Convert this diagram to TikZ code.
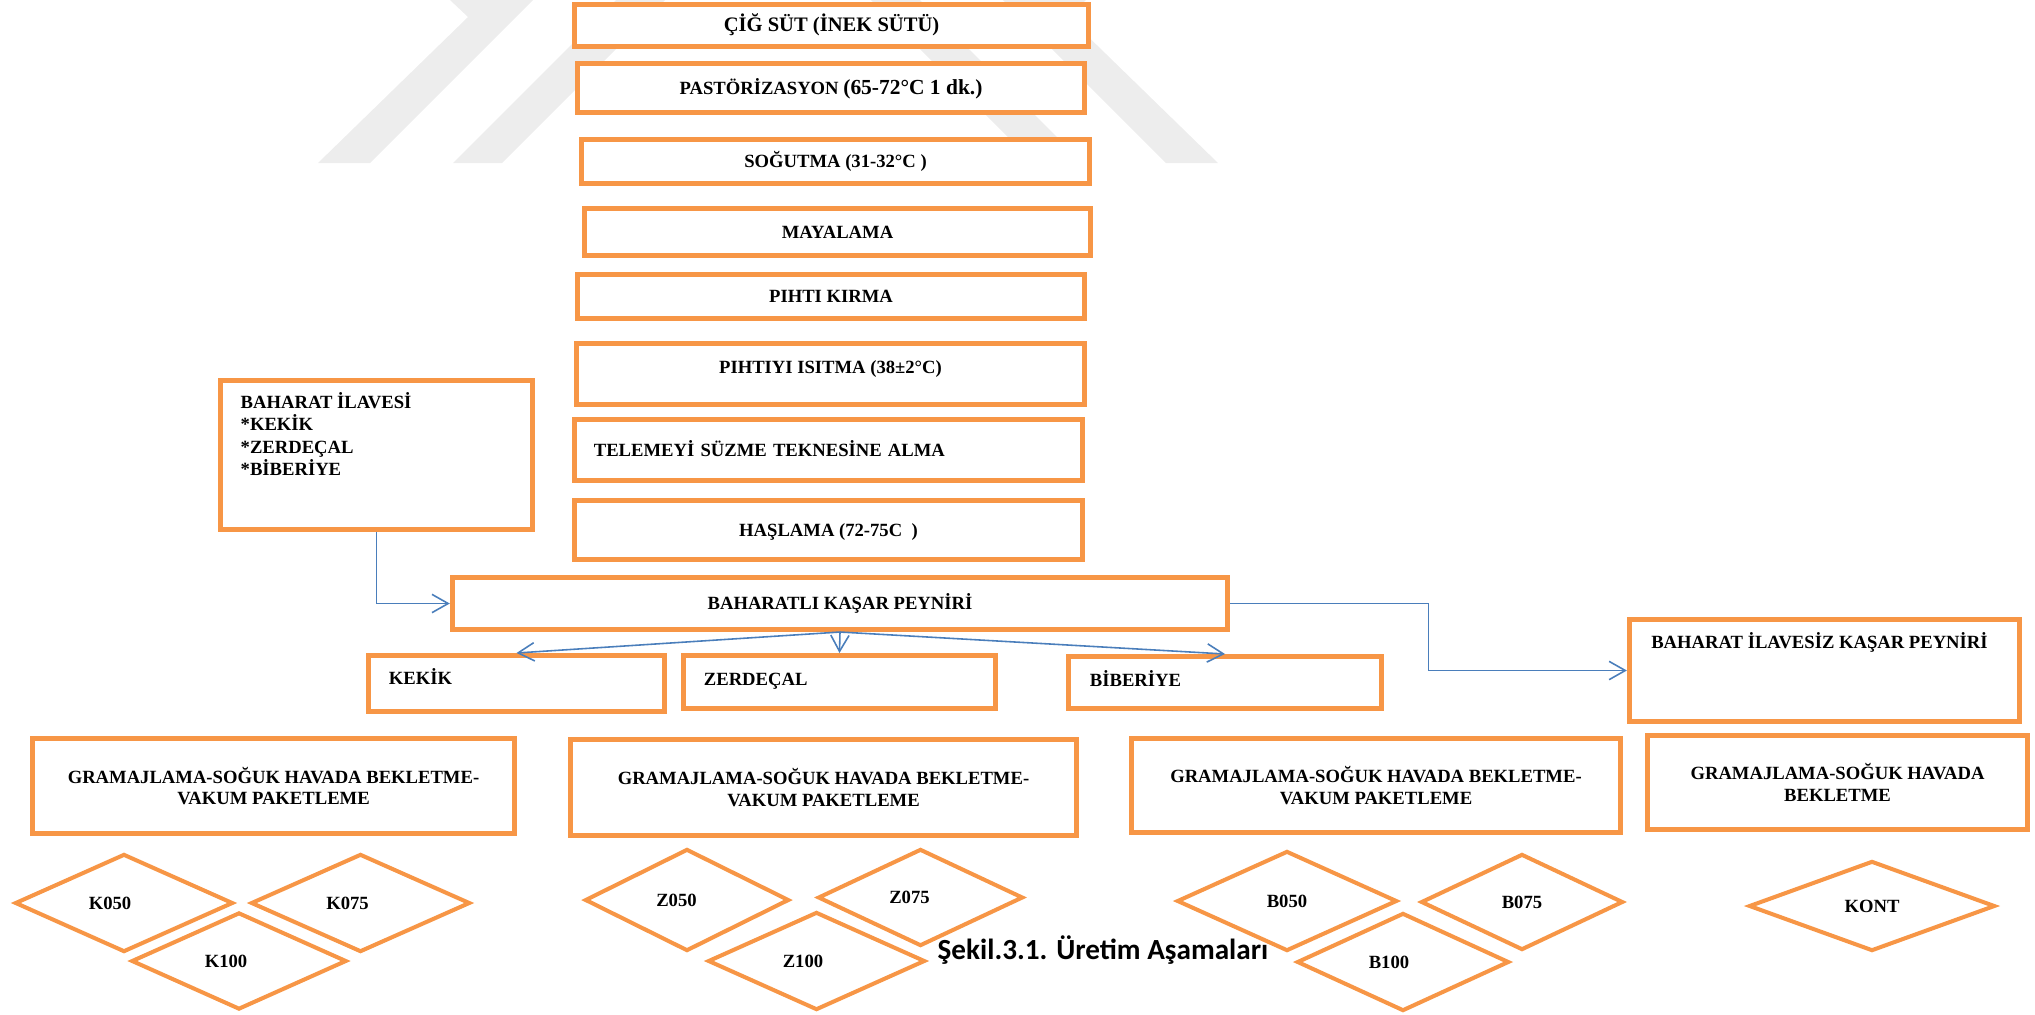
\documentclass[tikz,border=0pt]{standalone}
\usepackage{fontspec}
\setmainfont{Liberation Serif}
\newfontfamily\capfont{Carlito}
\usetikzlibrary{shapes.geometric,arrows.meta,calc}
\definecolor{boxorange}{HTML}{F79646}
\definecolor{linkblue}{HTML}{4A7EBB}
\definecolor{wmgray}{HTML}{EDEDED}
\tikzset{
  boxfont/.style={font=\bfseries\fontsize{5.3}{6.1}\selectfont},
  box/.style={draw=boxorange, fill=white, line width=1.42pt, rectangle, inner sep=0pt, boxfont},
  sbox/.style={box, text height=3.5pt, text depth=0pt},
  mbox/.style={box, align=center},
  lbox/.style={sbox, align=left},
  dia/.style={diamond, draw=boxorange, line width=1.15pt, inner sep=0pt, boxfont, text height=3.5pt, text depth=0pt},
  conn/.style={draw=linkblue, line width=0.45pt, -{Straight Barb[length=4.6pt,width=5.2pt]}},
  txt/.style={inner sep=0pt, boxfont},
  wm/.style={fill=wmgray, draw=none},
}
\begin{document}
\begin{tikzpicture}[x=0.01cm, y=-0.01cm]
\useasboundingbox (0,0) rectangle (2035,1014);
% watermark
\path[wm] (318,163) -- (370,163) -- (533,0) -- (450,0) -- (468,17) -- cycle;
\path[wm] (453,163) -- (502,163) -- (665,0) -- (616,0) -- cycle;
\path[wm] (1218,163) -- (1166,163) -- (1003,0) -- (1086,0) -- (1068,17) -- cycle;
\path[wm] (1083,163) -- (1034,163) -- (871,0) -- (920,0) -- cycle;

% main column
\node[sbox, minimum width=5.14cm, minimum height=0.42cm, font=\bfseries\fontsize{5.85}{6.5}\selectfont] (cig) at (831.5,25.5) {ÇİĞ SÜT (İNEK SÜTÜ)};
\node[sbox, minimum width=5.07cm, minimum height=0.49cm] (past) at (831,88) {PASTÖRİZASYON {\fontsize{6.1}{7}\selectfont(65-72°C 1 dk.)}};
\node[sbox, minimum width=5.08cm, minimum height=0.44cm] (sog) at (835.5,161.5) {SOĞUTMA (31-32°C )};
\node[sbox, minimum width=5.06cm, minimum height=0.47cm] (maya) at (837.5,232) {MAYALAMA};
\node[sbox, minimum width=5.07cm, minimum height=0.44cm] (pihti) at (831,296.5) {PIHTI KIRMA};
\node[sbox, minimum width=5.08cm, minimum height=0.61cm, text depth=4pt] (isit) at (830.5,374) {PIHTIYI ISITMA (38±2°C)};
\node[lbox, minimum width=5.08cm, minimum height=0.61cm, inner xsep=0.195cm, text width=4.69cm] (telem) at (828.5,450) {TELEMEYİ SÜZME TEKNESİNE ALMA};
\node[sbox, minimum width=5.08cm, minimum height=0.59cm] (hasl) at (828.5,530) {HAŞLAMA (72-75C~~)};
\node[sbox, minimum width=7.75cm, minimum height=0.52cm] (bkp) at (840,603.5) {BAHARATLI KAŞAR PEYNİRİ};

% spice box
\node[box, minimum width=3.12cm, minimum height=1.49cm] (spice) at (376.5,455) {};
\node[txt, align=left, anchor=north west, font=\bfseries\fontsize{5.3}{6.3}\selectfont] (spicetxt) at (240,392) {BAHARAT İLAVESİ\\*KEKİK\\*ZERDEÇAL\\*BİBERİYE};

% spice branches
\node[lbox, minimum width=2.96cm, minimum height=0.56cm, inner xsep=0.205cm, text width=2.55cm, text depth=3.1pt] (kekik) at (516.5,683.5) {KEKİK};
\node[lbox, minimum width=3.12cm, minimum height=0.53cm, inner xsep=0.205cm, text width=2.71cm, text depth=1.7pt] (zerd) at (839.5,682) {ZERDEÇAL};
\node[lbox, minimum width=3.13cm, minimum height=0.52cm, inner xsep=0.215cm, text width=2.70cm, text depth=1.4pt] (bib) at (1225,682.5) {BİBERİYE};

% control branch
\node[box, minimum width=3.90cm, minimum height=1.02cm] (ilav) at (1824.5,670.5) {};
\node[txt, text height=3.5pt, text depth=0pt] (ilavtxt) at (1819.5,642) {BAHARAT İLAVESİZ KAŞAR PEYNİRİ};

% packaging boxes
\node[mbox, minimum width=4.82cm, minimum height=0.95cm] (g1) at (273.5,786) {GRAMAJLAMA-SOĞUK HAVADA BEKLETME-\\VAKUM PAKETLEME};
\node[mbox, minimum width=5.06cm, minimum height=0.96cm] (g2) at (823.5,787.5) {GRAMAJLAMA-SOĞUK HAVADA BEKLETME-\\VAKUM PAKETLEME};
\node[mbox, minimum width=4.89cm, minimum height=0.94cm] (g3) at (1376,785.5) {GRAMAJLAMA-SOĞUK HAVADA BEKLETME-\\VAKUM PAKETLEME};
\node[mbox, minimum width=3.80cm, minimum height=0.94cm] (g4) at (1837.5,782.5) {GRAMAJLAMA-SOĞUK HAVADA\\BEKLETME};

% diamonds
\node[dia, minimum width=2.18cm, minimum height=0.98cm] (k050) at (124,903) {K050\kern0.28cm};
\node[dia, minimum width=2.19cm, minimum height=0.98cm] (k075) at (360.5,903) {K075\kern0.26cm};
\node[dia, minimum width=2.15cm, minimum height=0.97cm] (k100) at (239,961) {K100\kern0.26cm};
\node[dia, minimum width=2.04cm, minimum height=1.02cm] (z050) at (687,900) {Z050\kern0.21cm};
\node[dia, minimum width=2.05cm, minimum height=0.97cm] (z075) at (920.5,897.5) {Z075\kern0.22cm};
\node[dia, minimum width=2.17cm, minimum height=0.98cm] (z100) at (816.5,961) {Z100\kern0.27cm};
\node[dia, minimum width=2.20cm, minimum height=1.00cm] (b050) at (1287,901) {B050};
\node[dia, minimum width=2.02cm, minimum height=0.96cm] (b075) at (1522,902) {B075};
\node[dia, minimum width=2.12cm, minimum height=0.98cm] (b100) at (1403,962) {B100\kern0.28cm};
\node[dia, minimum width=2.46cm, minimum height=0.90cm] (kont) at (1872,906) {KONT};

% caption
\node[inner sep=0pt, anchor=base, font=\capfont\bfseries\fontsize{8.3}{10}\selectfont] (caption) at (1103,959) {Şekil.3.1. Üretim Aşamaları};

% connectors
\draw[conn] (spice.south) |- (bkp.west);
\draw[conn] (bkp.east) -| ($(bkp.east)!0.5!(ilav.west)$) |- (ilav.west);
\draw[conn] (bkp.south) -- (kekik.north);
\draw[conn] (bkp.south) -- (zerd.north);
\draw[conn] (bkp.south) -- (bib.north);
\end{tikzpicture}
\end{document}
